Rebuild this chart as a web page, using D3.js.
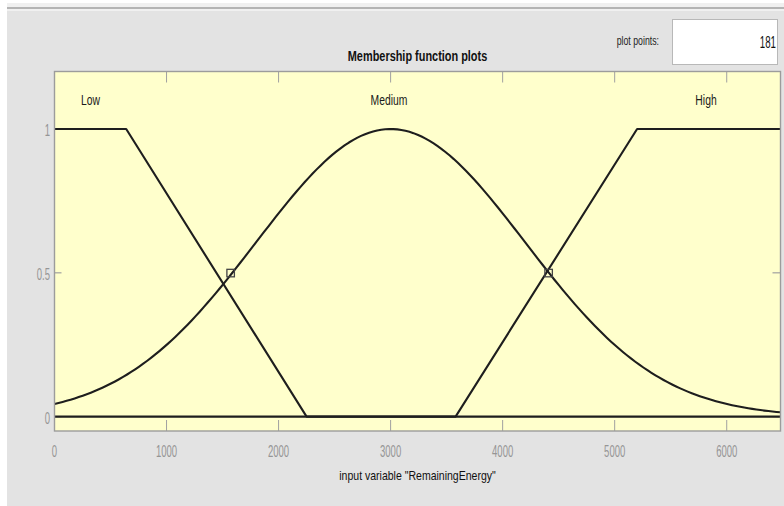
<!DOCTYPE html>
<html>
<head>
<meta charset="utf-8">
<script src="https://cdn.jsdelivr.net/npm/d3@7"></script>
<style>
  html, body { margin: 0; padding: 0; background: #ffffff; }
  svg { display: block; }
  text { font-family: "Liberation Sans", Arial, sans-serif; }
</style>
</head>
<body>
<svg id="chart" width="784" height="506"></svg>
<script>
// Input variable range and membership functions of "RemainingEnergy"
const xRange = [0, 6480];
const yRange = [-0.05, 1.2];
const mfNames = ["Low", "Medium", "High"];
const lowParams = [-1620, 0, 640, 2250];        // trapmf
const mediumParams = [1200, 3000];              // gaussmf: sigma, center
const highParams = [3580, 5200, 6480, 8100];    // trapmf
const labelPositions = [321, 2985, 5815];       // x of each MF name
const markerX = [1570, 4408];                   // selection handles
const markerY = [0.5, 0.5];
const xTicks = [0, 1000, 2000, 3000, 4000, 5000, 6000];
const yTicks = [0, 0.5, 1];
const plotPoints = 181;

const svg = d3.select("#chart");
const W = 784, H = 506;

// narrow text: horizontally condensed glyphs anchored at (x, y)
function label(parent, x, y, str, opts) {
  const o = Object.assign({ size: 13, sx: 0.75, anchor: "middle", fill: "#111", weight: "normal" }, opts);
  return parent.append("text")
    .attr("transform", `translate(${x},${y}) scale(${o.sx},1)`)
    .attr("text-anchor", o.anchor)
    .attr("font-size", o.size)
    .attr("font-weight", o.weight)
    .attr("fill", o.fill)
    .text(str);
}

// window chrome
svg.append("rect").attr("x", 0).attr("y", 0).attr("width", W).attr("height", H).attr("fill", "#ffffff");
svg.append("rect").attr("x", 7).attr("y", 3).attr("width", W - 7).attr("height", H - 3).attr("fill", "#f0f0f0");
svg.append("rect").attr("x", 7).attr("y", 7).attr("width", W - 7).attr("height", 2).attr("fill", "#b4b4b4");
svg.append("rect").attr("x", 7).attr("y", 11).attr("width", W - 7).attr("height", H - 11).attr("fill", "#e3e3e3");

const m = { left: 54.5, right: 780.5, top: 71.5, bottom: 431 };
const x = d3.scaleLinear().domain(xRange).range([m.left, m.right]);
const y = d3.scaleLinear().domain(yRange).range([m.bottom, m.top]);

// plot area
svg.append("rect")
  .attr("x", m.left).attr("y", m.top)
  .attr("width", m.right - m.left).attr("height", m.bottom - m.top)
  .attr("fill", "#ffffcc");

// ticks (inward), drawn on all four sides
const tickColor = "#a0a0a0";
const gt = svg.append("g");
xTicks.forEach(t => {
  gt.append("line").attr("x1", x(t)).attr("x2", x(t)).attr("y1", m.bottom).attr("y2", m.bottom - 11)
    .attr("stroke", tickColor).attr("stroke-width", 1);
  gt.append("line").attr("x1", x(t)).attr("x2", x(t)).attr("y1", m.top).attr("y2", m.top + 11)
    .attr("stroke", tickColor).attr("stroke-width", 1);
});
yTicks.forEach(t => {
  gt.append("line").attr("x1", m.left).attr("x2", m.left + 7).attr("y1", y(t)).attr("y2", y(t))
    .attr("stroke", tickColor).attr("stroke-width", 1.2);
  gt.append("line").attr("x1", m.right).attr("x2", m.right - 8).attr("y1", y(t)).attr("y2", y(t))
    .attr("stroke", tickColor).attr("stroke-width", 1.2);
});

// tick labels
const gl = svg.append("g");
xTicks.forEach(t => label(gl, x(t), 457, t, { size: 17, sx: 0.56, fill: "#959595" }));
yTicks.forEach(t => label(gl, 50, y(t) + 7, t, { size: 17, sx: 0.56, anchor: "end", fill: "#959595" }));

// membership functions
const trapmf = (v, p) => Math.max(0, Math.min((v - p[0]) / (p[1] - p[0]), 1, (p[3] - v) / (p[3] - p[2])));
const gaussmf = (v, p) => Math.exp(-((v - p[1]) ** 2) / (2 * p[0] * p[0]));

const xs = d3.range(plotPoints).map(i => xRange[0] + i * (xRange[1] - xRange[0]) / (plotPoints - 1));
const trapXs = p => [xRange[0], ...p.filter(v => v > xRange[0] && v < xRange[1]), xRange[1]];

const curves = [
  trapXs(lowParams).map(v => [v, trapmf(v, lowParams)]),
  xs.map(v => [v, gaussmf(v, mediumParams)]),
  trapXs(highParams).map(v => [v, trapmf(v, highParams)])
];

const line = d3.line().x(d => x(d[0])).y(d => y(d[1]));
svg.append("g").selectAll("path").data(curves).join("path")
  .attr("d", line)
  .attr("fill", "none")
  .attr("stroke", "#1e1e1e")
  .attr("stroke-width", 2.1)
  .attr("stroke-linejoin", "round");

// MF names
const gn = svg.append("g");
mfNames.forEach((n, i) => label(gn, x(labelPositions[i]), y(1.1) + 5, n, { size: 14, sx: 0.74, fill: "#1a1a1a" }));

// square markers
svg.append("g").selectAll("rect").data(markerX).join("rect")
  .attr("x", d => x(d) - 3.5).attr("y", (d, i) => y(markerY[i]) - 3.5)
  .attr("width", 7.5).attr("height", 7.5)
  .attr("fill", "none").attr("stroke", "#444444").attr("stroke-width", 1.3);

// frame
svg.append("rect")
  .attr("x", m.left).attr("y", m.top)
  .attr("width", m.right - m.left).attr("height", m.bottom - m.top)
  .attr("fill", "none").attr("stroke", "#9c9c9c").attr("stroke-width", 1.4);

// title and axis label
label(svg, (m.left + m.right) / 2, 61, "Membership function plots", { size: 14, sx: 0.78, weight: "bold", fill: "#111" });
label(svg, (m.left + m.right) / 2, 480, 'input variable "RemainingEnergy"', { size: 13, sx: 0.81, fill: "#111" });

// plot points control
label(svg, 659, 45, "plot points:", { size: 12, sx: 0.73, anchor: "end", fill: "#222" });
svg.append("rect").attr("x", 672.5).attr("y", 19.5).attr("width", 105).attr("height", 45)
  .attr("fill", "#ffffff").attr("stroke", "#b8b8b8").attr("stroke-width", 1);
label(svg, 776, 48, plotPoints, { size: 17, sx: 0.57, anchor: "end", fill: "#111" });
</script>
</body>
</html>
